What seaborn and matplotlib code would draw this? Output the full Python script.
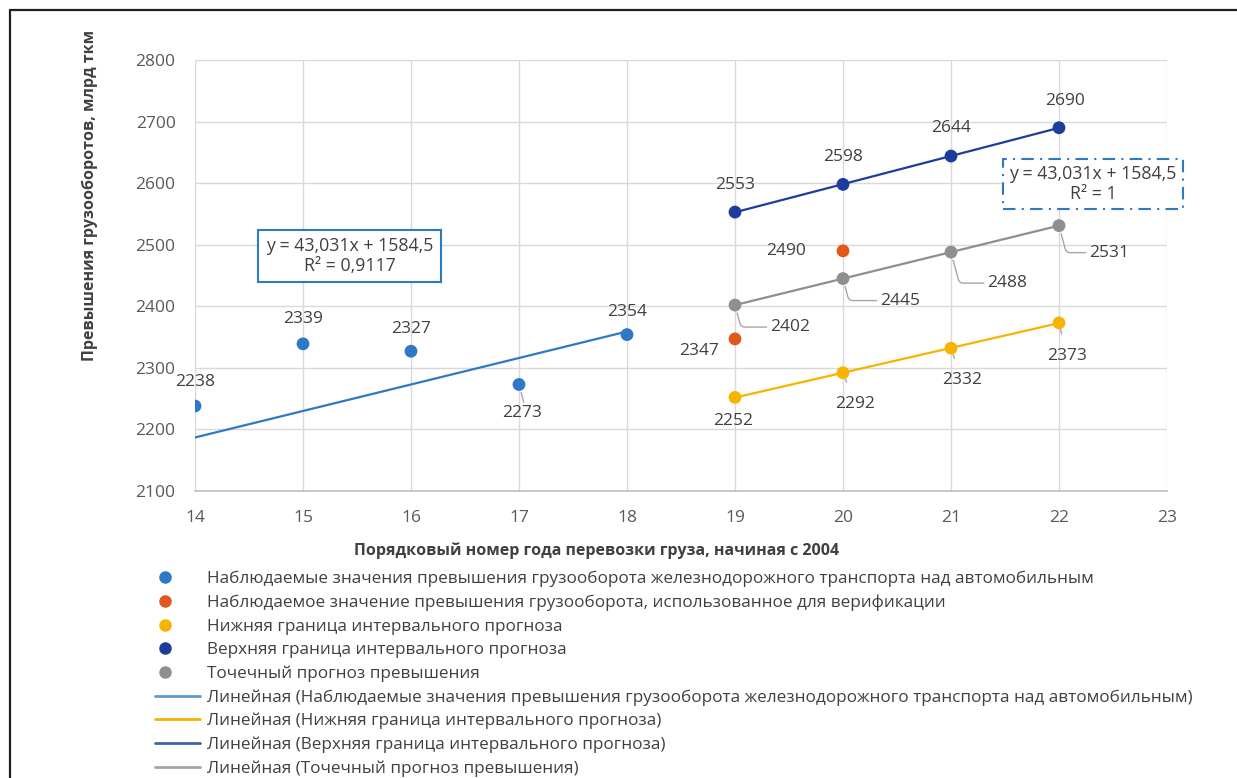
import numpy as np
import pandas as pd
import matplotlib
matplotlib.use("Agg")
import matplotlib.pyplot as plt
from matplotlib.lines import Line2D
from matplotlib.legend_handler import HandlerLine2D
import seaborn as sns

# ---- data -------------------------------------------------------------
obs_x = [14, 15, 16, 17, 18]
obs_y = [2238, 2339, 2327, 2273, 2354]

ver_x = [19, 20]
ver_y = [2347, 2490]

fc_x = [19, 20, 21, 22]
lower_y = [2252, 2292, 2332, 2373]
upper_y = [2553, 2598, 2644, 2690]
point_y = [2402, 2445, 2488, 2531]

# trend equation printed on the chart (y = a*x + b)
trend_a = 43.031
trend_b = 1584.5
trend_label = "y = 43,031x + 1584,5\nR² = 0,9117"
fc_trend_label = "y = 43,031x + 1584,5\nR² = 1"

x_ticks = [14, 15, 16, 17, 18, 19, 20, 21, 22, 23]
y_ticks = [2100, 2200, 2300, 2400, 2500, 2600, 2700, 2800]

labels = [
    "Наблюдаемые значения превышения грузооборота железнодорожного транспорта над автомобильным",
    "Наблюдаемое значение превышения грузооборота, использованное для верификации",
    "Нижняя граница интервального прогноза",
    "Верхняя граница интервального прогноза",
    "Точечный прогноз превышения",
    "Линейная (Наблюдаемые значения превышения грузооборота железнодорожного транспорта над автомобильным)",
    "Линейная (Нижняя граница интервального прогноза)",
    "Линейная (Верхняя граница интервального прогноза)",
    "Линейная (Точечный прогноз превышения)",
]

# ---- style ------------------------------------------------------------
C_OBS = "#2E78C8"
C_VER = "#E2571C"
C_LOW = "#F6B400"
C_UP = "#1E3C9E"
C_PT = "#8F8F8F"
C_TXT = "#404040"

sns.set_theme(style="whitegrid")
plt.rcParams["font.family"] = ["Open Sans", "DejaVu Sans"]

W, H = 1237, 778
fig = plt.figure(figsize=(W / 100, H / 100), dpi=100)
ax = fig.add_axes([195 / W, 1 - 491 / H, (1167 - 195) / W, (491 - 60) / H])
ax.set_facecolor("white")

# trend lines
tx = np.array([obs_x[0], obs_x[-1]])
sns.lineplot(x=tx, y=trend_a * tx + trend_b, color=C_OBS, lw=1.6, ax=ax, zorder=2)
for ys, col in [(lower_y, C_LOW), (upper_y, C_UP), (point_y, C_PT)]:
    k, b = np.polyfit(fc_x, ys, 1)
    fx = np.array(fc_x, dtype=float)
    sns.lineplot(x=fx, y=k * fx + b, color=col, lw=1.6, ax=ax, zorder=2)

# points
ms = 85
for xs, ys, col in [(obs_x, obs_y, C_OBS), (ver_x, ver_y, C_VER),
                    (fc_x, lower_y, C_LOW), (fc_x, upper_y, C_UP),
                    (fc_x, point_y, C_PT)]:
    sns.scatterplot(x=xs, y=ys, color=col, s=ms, edgecolor="none", ax=ax, zorder=3)

ax.set_xlim(14, 23)
ax.set_ylim(2100, 2800)
ax.set_xticks(x_ticks)
ax.set_yticks(y_ticks)
ax.grid(True, color="#D9D9D9", lw=1.0)
for s in ["top", "right", "left"]:
    ax.spines[s].set_visible(False)
ax.spines["bottom"].set_color("#BFBFBF")
ax.spines["bottom"].set_linewidth(1.2)
ax.tick_params(axis="both", length=0, labelsize=12.5, labelcolor="#595959")
ax.tick_params(axis="x", pad=14)
ax.tick_params(axis="y", pad=14)
ax.set_xlabel("")
ax.set_ylabel("")

LBL = 12.5

# data labels
def lab(x, y, dx, dy, leader=False):
    kw = {}
    if leader:
        kw["arrowprops"] = dict(arrowstyle="-", color="#A6A6A6", lw=1.0,
                                shrinkA=0, shrinkB=6,
                                connectionstyle="angle,angleA=0,angleB=-75,rad=4")
    ax.annotate(f"{y}", (x, y), xytext=(dx, dy), textcoords="offset pixels",
                ha="center", va="center", fontsize=LBL, color=C_TXT, zorder=4, **kw)

obs_off = [(0, 24), (0, 25), (0, 22), (3, -29), (0, 23)]
for x, y, (dx, dy) in zip(obs_x, obs_y, obs_off):
    lab(x, y, dx, dy, leader=(dy < 0))

for x, y, (dx, dy) in zip(ver_x, ver_y, [(-36, -12), (-57, 0)]):
    lab(x, y, dx, dy)

for x, y, (dx, dy) in zip(fc_x, upper_y, [(0, 27), (0, 27), (0, 28), (6, 27)]):
    lab(x, y, dx, dy)

for x, y, (dx, dy) in zip(fc_x, point_y, [(55, -22), (57, -22), (56, -31), (50, -27)]):
    lab(x, y, dx, dy, leader=True)

for x, y, (dx, dy), ld in zip(fc_x, lower_y, [(-2, -24), (12, -31), (11, -32), (8, -33)],
                              [False, True, True, True]):
    ax.annotate(f"{y}", (x, y), xytext=(dx, dy), textcoords="offset pixels",
                ha="center", va="center", fontsize=LBL, color=C_TXT, zorder=4,
                arrowprops=(dict(arrowstyle="-", color="#A6A6A6", lw=1.0,
                                 shrinkA=8, shrinkB=5) if ld else None))

# equation boxes
fig.text((256 + 443) / 2 / W, 1 - 256 / H, trend_label, ha="center", va="center",
         fontsize=12.8, color=C_TXT, linespacing=1.12,
         bbox=dict(boxstyle="square,pad=0.42", fc="white", ec=C_OBS, lw=1.5))
fig.text((1004 + 1182) / 2 / W, 1 - 184 / H, fc_trend_label, ha="center", va="center",
         fontsize=12.8, color=C_TXT, linespacing=1.12,
         bbox=dict(boxstyle="square,pad=0.35", fc="white", ec=C_OBS, lw=1.5,
                   ls=(0, (6, 3, 1, 3))))

# axis titles
fig.text(90 / W, 1 - 195 / H, "Превышения грузооборотов, млрд ткм", rotation=90,
         ha="center", va="center", fontsize=11.5, fontweight="bold", color=C_TXT)
fig.text(597 / W, 1 - 551 / H, "Порядковый номер года перевозки груза, начиная с 2004",
         ha="center", va="center", fontsize=11.5, fontweight="bold", color=C_TXT)


# legend: marker-only entries keep their dot near the left end of the handle
class LeftMarkerHandler(HandlerLine2D):
    def get_xdata(self, legend, xdescent, ydescent, width, height, fontsize):
        xdata, xmark = super().get_xdata(legend, xdescent, ydescent, width, height, fontsize)
        left = -xdescent
        return np.array([left, left + 0.44 * width]), np.array([left + 0.22 * width])


dot_handles = [Line2D([], [], marker="o", ls="none", color=c, markersize=8)
               for c in (C_OBS, C_VER, C_LOW, C_UP, C_PT)]
line_handles = [Line2D([], [], color=c, lw=2)
                for c in ("#5B9BD5", C_LOW, "#4062B0", "#A5A5A5")]
handles = dot_handles + line_handles
leg = fig.legend(handles, labels, loc="upper left", bbox_to_anchor=(155 / W, 1 - 571 / H),
                 frameon=False, fontsize=12.3, handlelength=2.63, handletextpad=0.41,
                 labelspacing=0.43, borderaxespad=0, borderpad=0,
                 handler_map={h: LeftMarkerHandler(numpoints=1) for h in dot_handles})
for t in leg.get_texts():
    t.set_color(C_TXT)

# outer frame (top and left edges)
fig.add_artist(Line2D([10 / W, 1], [1 - 10 / H, 1 - 10 / H], transform=fig.transFigure,
                      color="#222222", lw=1.6))
fig.add_artist(Line2D([10 / W, 10 / W], [0, 1 - 10 / H], transform=fig.transFigure,
                      color="#222222", lw=1.6))

fig.savefig("out.png", dpi=100, facecolor="white")
